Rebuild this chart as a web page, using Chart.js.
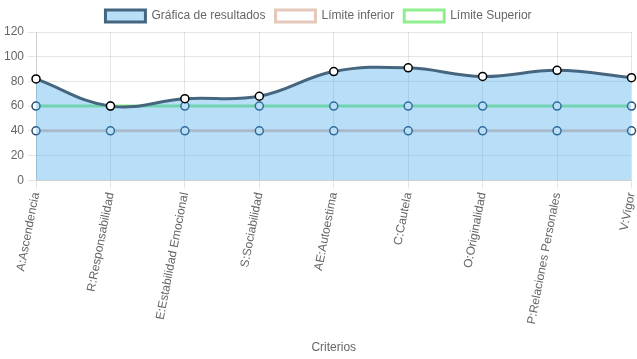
<!DOCTYPE html>
<html>
<head>
<meta charset="utf-8">
<script src="https://cdn.jsdelivr.net/npm/chart.js@4/dist/chart.umd.min.js"></script>
<style>
    html, body { margin: 0; padding: 0; background: #fff; }
    #wrap { width: 637px; height: 359px; }
</style>
</head>
<body>
<div id="wrap"><canvas id="chart"></canvas></div>
<script>
const categories = ['A:Ascendencia', 'R:Responsabilidad', 'E:Estabilidad Emocional', 'S:Sociabilidad',
    'AE:Autoestima', 'C:Cautela', 'O:Originalidad', 'P:Relaciones Personales', 'V:Vigor'];
const resultados = [82, 60, 66, 68, 88, 91, 84, 89, 83];
const limiteInferior = [40, 40, 40, 40, 40, 40, 40, 40, 40];
const limiteSuperior = [60, 60, 60, 60, 60, 60, 60, 60, 60];
const yTicks = { min: 0, max: 120, step: 20 };

Chart.defaults.font.family = 'Arial, "Liberation Sans", sans-serif';
Chart.defaults.font.size = 12;
Chart.defaults.color = '#666';

const ctx = document.getElementById('chart').getContext('2d');
new Chart(ctx, {
    type: 'line',
    data: {
        labels: categories,
        datasets: [
            {
                label: 'Gráfica de resultados',
                data: resultados,
                borderColor: '#46667f',
                backgroundColor: 'rgba(54, 162, 235, 0.35)',
                borderWidth: 3,
                fill: true,
                tension: 0.4,
                pointRadius: 4,
                pointBorderWidth: 1.5,
                pointBackgroundColor: '#fff',
                pointBorderColor: '#000'
            },
            {
                label: 'Límite inferior',
                data: limiteInferior,
                borderColor: 'rgb(230, 200, 185)',
                backgroundColor: '#fff',
                borderWidth: 3,
                fill: false,
                pointRadius: 4,
                pointBorderWidth: 1.5,
                pointBackgroundColor: '#fff',
                pointBorderColor: '#2f4f6f'
            },
            {
                label: 'Límite Superior',
                data: limiteSuperior,
                borderColor: 'rgb(144, 238, 144)',
                backgroundColor: '#fff',
                borderWidth: 3,
                fill: false,
                pointRadius: 4,
                pointBorderWidth: 1.5,
                pointBackgroundColor: '#fff',
                pointBorderColor: '#2f4f6f'
            }
        ]
    },
    options: {
        responsive: true,
        maintainAspectRatio: false,
        animation: false,
        plugins: {
            legend: {
                labels: { boxWidth: 40, boxHeight: 12, padding: 10 }
            },
            tooltip: { enabled: false }
        },
        scales: {
            x: {
                title: { display: true, text: 'Criterios', padding: { top: 12, bottom: 4 } },
                ticks: { autoSkip: false, minRotation: 79, maxRotation: 79 },
                grid: { color: 'rgba(0,0,0,0.1)' },
                afterFit: scale => { scale.paddingRight = 2; }
            },
            y: {
                min: yTicks.min,
                max: yTicks.max,
                ticks: { stepSize: yTicks.step, padding: 4 },
                grid: { color: 'rgba(0,0,0,0.1)' }
            }
        }
    }
});
</script>
</body>
</html>
